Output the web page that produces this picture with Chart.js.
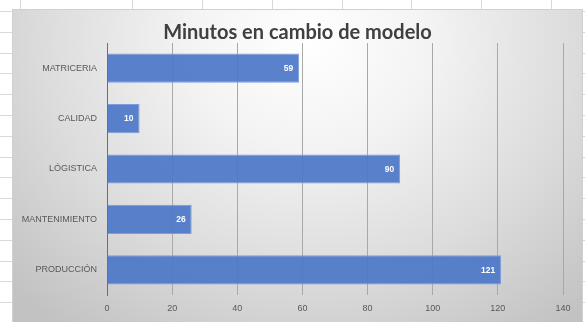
<!DOCTYPE html>
<html>
<head>
<meta charset="utf-8">
<script src="https://cdn.jsdelivr.net/npm/chart.js@4/dist/chart.umd.min.js"></script>
<style>
  html, body { margin: 0; padding: 0; background: #ffffff; }
  body { width: 585px; height: 322px; position: relative; overflow: hidden; }
  #sheet { position: absolute; left: 0; top: 0; width: 585px; height: 322px; }
  #frame {
    position: absolute; left: 13px; top: 10px; width: 569px; height: 312px;
    background: radial-gradient(ellipse 72% 115% at 52% 10%, #ffffff 0%, #f3f3f3 30%, #dcdcdc 65%, #c2c2c2 100%);
    box-shadow: 0 0 0 1px #d0d0d0;
  }
  #chart { display: block; }
</style>
</head>
<body>
<canvas id="sheet" width="585" height="322"></canvas>
<div id="frame"><canvas id="chart" width="569" height="312"></canvas></div>
<script>
// Minutes spent on each model changeover, by area
const categories = ['MATRICERIA', 'CALIDAD', 'LÓGISTICA', 'MANTENIMIENTO', 'PRODUCCIÓN'];
const minutes = [59, 10, 90, 26, 121];
const xTicks = [0, 20, 40, 60, 80, 100, 120, 140];
const chartTitle = 'Minutos en cambio de modelo';

// Worksheet cell grid behind the chart
(function drawSheet() {
  const c = document.getElementById('sheet').getContext('2d');
  c.strokeStyle = '#d9d9d9';
  c.lineWidth = 1;
  const cols = [20, 132, 202, 272, 342, 411, 481, 551];
  cols.forEach(x => { c.beginPath(); c.moveTo(x + 0.5, 0); c.lineTo(x + 0.5, 322); c.stroke(); });
  for (let y = 10.9; y < 322; y += 20.8) {
    const yy = Math.round(y) + 0.5;
    c.beginPath(); c.moveTo(0, yy); c.lineTo(585, yy); c.stroke();
  }
})();

// Title centred across the whole chart box
const centeredTitle = {
  id: 'centeredTitle',
  afterDraw(chart) {
    const ctx = chart.ctx;
    ctx.save();
    ctx.fillStyle = '#404040';
    ctx.font = 'bold 20px Lato, "Open Sans", sans-serif';
    ctx.textAlign = 'center';
    ctx.textBaseline = 'middle';
    ctx.fillText(chartTitle, chart.width / 2, 23);
    ctx.restore();
  }
};

// Value labels drawn inside the end of each bar
const barValueLabels = {
  id: 'barValueLabels',
  afterDatasetsDraw(chart) {
    const ctx = chart.ctx;
    const meta = chart.getDatasetMeta(0);
    ctx.save();
    ctx.fillStyle = '#ffffff';
    ctx.font = 'bold 8.5px "Liberation Sans", Arial, sans-serif';
    ctx.textAlign = 'right';
    ctx.textBaseline = 'middle';
    meta.data.forEach((bar, i) => {
      ctx.fillText(String(chart.data.datasets[0].data[i]), bar.x - 6, bar.y + 0.5);
    });
    ctx.restore();
  }
};

new Chart(document.getElementById('chart'), {
  type: 'bar',
  data: {
    labels: categories,
    datasets: [{
      data: minutes,
      backgroundColor: 'rgba(78, 120, 200, 0.93)',
      borderColor: '#7d9cda',
      borderWidth: 1,
      categoryPercentage: 1,
      barPercentage: 0.58
    }]
  },
  options: {
    indexAxis: 'y',
    responsive: false,
    animation: false,
    layout: { padding: { left: 0, right: 19, top: 33, bottom: 0 } },
    plugins: {
      legend: { display: false },
      tooltip: { enabled: false },
      title: { display: false }
    },
    scales: {
      x: {
        min: 0,
        max: 140,
        afterBuildTicks(scale) { scale.ticks = xTicks.map(v => ({ value: v })); },
        afterFit(scale) { scale.height = 27; },
        grid: { color: '#a8a8a8', lineWidth: 1, drawTicks: false },
        border: { display: false },
        ticks: {
          color: '#595959',
          padding: 8,
          font: { family: '"Liberation Sans", Arial, sans-serif', size: 9 }
        }
      },
      y: {
        afterFit(scale) { scale.width = 94; },
        grid: { display: false, drawTicks: false },
        border: { display: true, color: '#6e6e6e', width: 1 },
        ticks: {
          color: '#595959',
          padding: 10,
          font: { family: '"Liberation Sans", Arial, sans-serif', size: 9 }
        }
      }
    }
  },
  plugins: [barValueLabels, centeredTitle]
});
</script>
</body>
</html>
